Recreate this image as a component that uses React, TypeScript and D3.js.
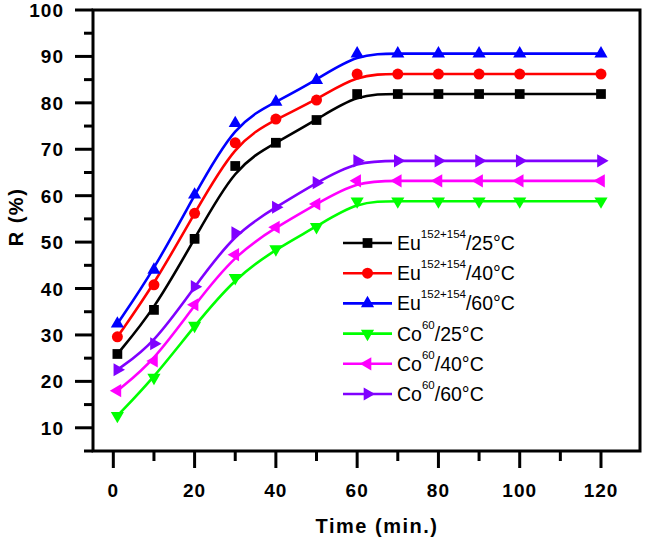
import React, { useRef, useEffect } from "react";
import * as d3 from "d3";

// sampling times (min.)
const time = [1, 10, 20, 30, 40, 50, 60, 70, 80, 90, 100, 120];

// R (%)
const eu25 = [25.9, 35.4, 50.7, 66.4, 71.4, 76.3, 81.9, 81.9, 81.9, 81.9, 81.9, 81.9];
const eu40 = [29.6, 40.8, 56.2, 71.4, 76.5, 80.6, 86.2, 86.2, 86.2, 86.2, 86.2, 86.2];
const eu60 = [32.4, 44.0, 60.2, 75.6, 80.2, 84.9, 90.6, 90.6, 90.6, 90.6, 90.6, 90.6];
const co25 = [12.6, 20.8, 32.0, 42.3, 48.5, 53.3, 58.8, 58.8, 58.8, 58.8, 58.8, 58.8];
const co40 = [18.0, 24.4, 36.5, 47.3, 53.2, 58.2, 63.2, 63.2, 63.2, 63.2, 63.2, 63.2];
const co60 = [22.5, 28.1, 40.4, 52.0, 57.5, 62.8, 67.5, 67.5, 67.5, 67.5, 67.5, 67.5];

const seriesNames = ["Eu", "Eu", "Eu", "Co", "Co", "Co"];
const seriesSup = ["152+154", "152+154", "152+154", "60", "60", "60"];
const seriesTemp = ["/25°C", "/40°C", "/60°C", "/25°C", "/40°C", "/60°C"];
const seriesValues = [eu25, eu40, eu60, co25, co40, co60];
const seriesColors = ["#000000", "#ff0000", "#0000ff", "#00ff00", "#ff00ff", "#8000ff"];

const xTicks = [0, 20, 40, 60, 80, 100, 120];
const yTicks = [10, 20, 30, 40, 50, 60, 70, 80, 90, 100];

export default function App() {
  const ref = useRef<SVGSVGElement>(null);

  useEffect(() => {
    if (!ref.current) return;
    const svg = d3.select(ref.current);
    svg.selectAll("*").remove();

    const left = 93;
    const right = 640;
    const top = 10;
    const bottom = 451;

    const x = d3.scaleLinear().domain([-5, 129.6]).range([left, right]);
    const y = d3.scaleLinear().domain([5, 100]).range([bottom, top]);

    const font = "Arial, 'Liberation Sans', sans-serif";

    // symbols per series
    const symbols = [
      { type: d3.symbolSquare, size: 95, rot: 0 },
      { type: d3.symbolCircle, size: 95, rot: 0 },
      { type: d3.symbolTriangle, size: 75, rot: 0 },
      { type: d3.symbolTriangle, size: 75, rot: 180 },
      { type: d3.symbolTriangle, size: 75, rot: -90 },
      { type: d3.symbolTriangle, size: 75, rot: 90 },
    ];

    // y axis ticks
    const yAxis = svg.append("g").attr("transform", `translate(${left},0)`);
    yAxis
      .selectAll("line.major")
      .data(yTicks)
      .enter()
      .append("line")
      .attr("x1", -18)
      .attr("x2", 0)
      .attr("y1", (d) => y(d))
      .attr("y2", (d) => y(d))
      .attr("stroke", "#000")
      .attr("stroke-width", 3);
    yAxis
      .selectAll("line.minor")
      .data(yTicks.map((d) => d - 5))
      .enter()
      .append("line")
      .attr("x1", -9)
      .attr("x2", 0)
      .attr("y1", (d) => y(d))
      .attr("y2", (d) => y(d))
      .attr("stroke", "#000")
      .attr("stroke-width", 3);
    yAxis
      .selectAll("text")
      .data(yTicks)
      .enter()
      .append("text")
      .attr("x", -29)
      .attr("y", (d) => y(d) + 7)
      .attr("text-anchor", "end")
      .attr("font-family", font)
      .attr("font-weight", "bold")
      .attr("font-size", 19)
      .attr("letter-spacing", 1)
      .text((d) => d);

    // x axis ticks
    const xAxis = svg.append("g").attr("transform", `translate(0,${bottom})`);
    xAxis
      .selectAll("line.major")
      .data(xTicks)
      .enter()
      .append("line")
      .attr("x1", (d) => x(d))
      .attr("x2", (d) => x(d))
      .attr("y1", 0)
      .attr("y2", 17)
      .attr("stroke", "#000")
      .attr("stroke-width", 3);
    xAxis
      .selectAll("line.minor")
      .data(xTicks.slice(0, -1).map((d) => d + 10))
      .enter()
      .append("line")
      .attr("x1", (d) => x(d))
      .attr("x2", (d) => x(d))
      .attr("y1", 0)
      .attr("y2", 10)
      .attr("stroke", "#000")
      .attr("stroke-width", 3);
    xAxis
      .selectAll("text")
      .data(xTicks)
      .enter()
      .append("text")
      .attr("x", (d) => x(d))
      .attr("y", 46)
      .attr("text-anchor", "middle")
      .attr("font-family", font)
      .attr("font-weight", "bold")
      .attr("font-size", 19)
      .attr("letter-spacing", 1)
      .text((d) => d);

    // frame
    svg
      .append("rect")
      .attr("x", left)
      .attr("y", top)
      .attr("width", right - left)
      .attr("height", bottom - top)
      .attr("fill", "none")
      .attr("stroke", "#000")
      .attr("stroke-width", 3);

    // axis titles
    svg
      .append("text")
      .attr("x", 377)
      .attr("y", 533)
      .attr("text-anchor", "middle")
      .attr("font-family", font)
      .attr("font-weight", "bold")
      .attr("font-size", 20)
      .attr("letter-spacing", 1.5)
      .text("Time (min.)");
    svg
      .append("text")
      .attr("transform", `translate(23,217) rotate(-90)`)
      .attr("text-anchor", "middle")
      .attr("font-family", font)
      .attr("font-weight", "bold")
      .attr("font-size", 20)
      .attr("letter-spacing", 1.5)
      .text("R (%)");

    // lines + markers
    const line = d3
      .line<number>()
      .x((_, i) => x(time[i]))
      .y((d) => y(d))
      .curve(d3.curveBasis);

    seriesValues.forEach((vals, si) => {
      const color = seriesColors[si];
      const sym = symbols[si];
      const g = svg.append("g");
      g.append("path")
        .attr("d", line(vals)!)
        .attr("fill", "none")
        .attr("stroke", color)
        .attr("stroke-width", 2.6);
      g.selectAll("path.m")
        .data(vals)
        .enter()
        .append("path")
        .attr("class", "m")
        .attr("d", d3.symbol(sym.type, sym.size)()!)
        .attr(
          "transform",
          (d, i) => `translate(${x(time[i])},${y(d)}) rotate(${sym.rot})`
        )
        .attr("fill", color);
    });

    // legend
    const legend = svg.append("g").attr("transform", "translate(343,243)");
    seriesValues.forEach((_, si) => {
      const color = seriesColors[si];
      const sym = symbols[si];
      const row = legend.append("g").attr("transform", `translate(0,${si * 30.2})`);
      row
        .append("line")
        .attr("x1", 0)
        .attr("x2", 49)
        .attr("stroke", color)
        .attr("stroke-width", 2.6);
      row
        .append("path")
        .attr("d", d3.symbol(sym.type, sym.size)()!)
        .attr("transform", `translate(24.5,0) rotate(${sym.rot})`)
        .attr("fill", color);
      const t = row
        .append("text")
        .attr("x", 54)
        .attr("y", 7)
        .attr("font-family", font)
        .attr("font-size", 19.5)
        .attr("fill", "#000");
      t.append("tspan").text(seriesNames[si]);
      t.append("tspan")
        .attr("dy", -12)
        .attr("font-size", 11.5)
        .text(seriesSup[si]);
      t.append("tspan").attr("dy", 12).text(seriesTemp[si]);
    });
  }, []);

  return (
    <svg
      ref={ref}
      width={645}
      height={538}
      style={{ position: "absolute", left: 0, top: 0, background: "#fff" }}
    />
  );
}
